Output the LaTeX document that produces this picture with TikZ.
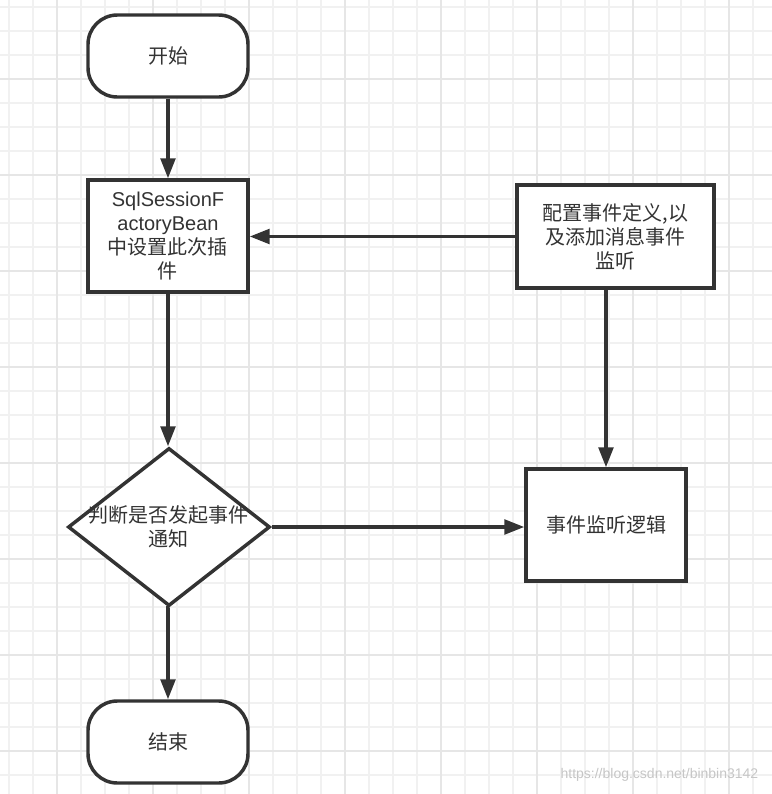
\documentclass[tikz,border=0pt]{standalone}
\usepackage{fontspec}
\setmainfont{Noto Sans CJK SC}
\newfontfamily\latfont{Liberation Sans}
\usetikzlibrary{arrows.meta,shapes.geometric}
\definecolor{ink}{HTML}{333333}
\definecolor{gridminor}{HTML}{F1F1F1}
\definecolor{gridmajor}{HTML}{E6E6E6}
\begin{document}
\begin{tikzpicture}[x=0.75pt,y=-0.75pt,
  every node/.style={font=\fontsize{15pt}{18pt}\selectfont, text=ink},
  shapeline/.style={draw=ink, line width=2.6pt, fill=white, inner sep=0pt, align=center},
  term/.style={shapeline, rectangle, rounded corners=22pt, minimum width=120pt, minimum height=61.5pt},
  procbox/.style={shapeline, rectangle, minimum width=120pt, minimum height=84pt},
  widebox/.style={shapeline, rectangle, minimum width=147.75pt, minimum height=77.25pt},
  decision/.style={shapeline, diamond, minimum width=151.5pt, minimum height=118.5pt},
  flow/.style={draw=ink, line width=2.6pt, -{Triangle[length=15pt,width=11pt]}}
]
\useasboundingbox (0,0) rectangle (772,794);
\fill[white] (0,0) rectangle (772,794);
% grid
\foreach \x in {9,33,...,777} \draw[gridminor, line width=0.8pt] (\x,0) -- (\x,794);
\foreach \y in {7,31,...,794} \draw[gridminor, line width=0.8pt] (0,\y) -- (772,\y);
\foreach \x in {57,153,...,777} \draw[gridmajor, line width=0.9pt] (\x,0) -- (\x,794);
\foreach \y in {79,175,...,794} \draw[gridmajor, line width=0.9pt] (0,\y) -- (772,\y);

% nodes
\node[term] (start) at (168,56) {开始};
\node[procbox] (plug) at (168,236) {{\latfont SqlSessionF}\\{\latfont actoryBean}\\中设置此次插\\件};
\node[widebox] (cfg) at (615.5,236.5) {配置事件定义,以\\及添加消息事件\\监听};
\node[decision, label={[align=center]center:判断是否发起事件\\通知}] (dec) at (169,527) {};
\node[procbox] (evt) at (606,525) {事件监听逻辑};
\node[term] (stop) at (168,742) {结束};

% connectors
\draw[flow] (start) -- (plug);
\draw[flow] (cfg.west) -- (cfg.west -| plug.east);
\draw[flow] (plug.south) -- (plug.south |- dec.north);
\draw[flow] (cfg.south -| evt.north) -- (evt.north);
\draw[flow] (dec.east) -- (dec.east -| evt.west);
\draw[flow] (dec.south) -- (dec.south -| stop.north) -- (stop.north);

% watermark
\node[anchor=east, text=gray!45, font=\latfont\fontsize{10.5pt}{12pt}\selectfont] (wm) at (763,775) {https://blog.csdn.net/binbin3142};
\end{tikzpicture}
\end{document}
